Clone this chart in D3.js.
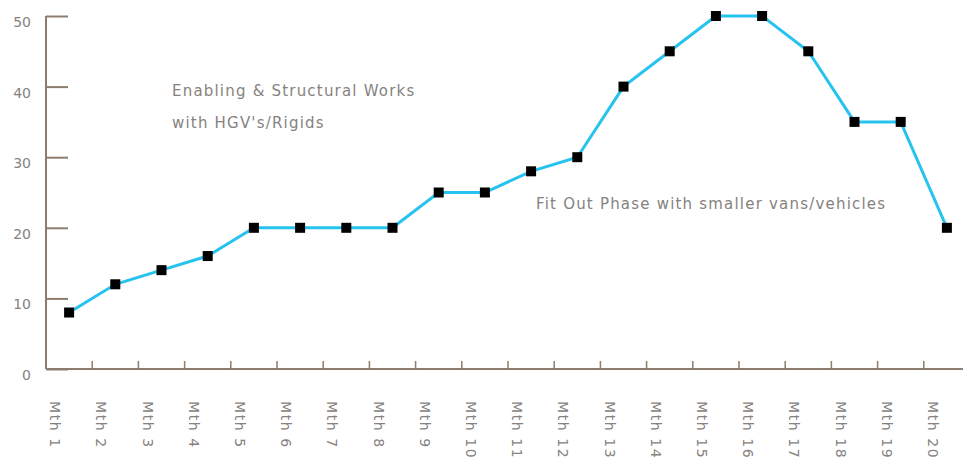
<!DOCTYPE html>
<html><head><meta charset="utf-8">
<script src="https://cdn.jsdelivr.net/npm/d3@7"></script>
<style>body{margin:0;background:#fff}svg{display:block}</style>
</head><body><svg id="c" width="963" height="461"></svg>
<script>
const categories = ["Mth 1","Mth 2","Mth 3","Mth 4","Mth 5","Mth 6","Mth 7","Mth 8","Mth 9","Mth 10","Mth 11","Mth 12","Mth 13","Mth 14","Mth 15","Mth 16","Mth 17","Mth 18","Mth 19","Mth 20"];
const values = [8,12,14,16,20,20,20,20,25,25,28,30,40,45,50,50,45,35,35,20];
const yTicks = [0,10,20,30,40,50];
const notes = [
  {lines:["Enabling & Structural Works","with HGV's/Rigids"]},
  {lines:["Fit Out Phase with smaller vans/vehicles"]}
];

(function(){
const svg = d3.select("#c");
const mL = 46, mR = 970, mT = 16, mB = 369;
const axisColor = "#8c7d6e", textColor = "#858280";
const font = "DejaVu Sans, sans-serif";
const x = d3.scaleBand().domain(categories).range([mL, mR]).padding(0);
const y = d3.scaleLinear().domain([0,50]).range([mB, mT]);

// y axis
const yg = svg.append("g").attr("transform",`translate(${mL},0)`)
  .call(d3.axisRight(y).tickValues(yTicks).tickSize(22).tickFormat(""));
yg.selectAll("path,line").attr("stroke",axisColor).attr("stroke-width",2);
yg.select(".domain").attr("d",`M0,${mT}V${mB}`);
svg.append("g").selectAll("text").data(yTicks).join("text")
  .attr("x",31).attr("y",d=>y(d)+11).attr("text-anchor","end")
  .attr("font-family",font).attr("font-size",14).attr("fill",textColor)
  .text(d=>d);

// x axis
const xg = svg.append("g").attr("transform",`translate(0,${mB})`);
xg.append("line").attr("x1",mL).attr("x2",963).attr("y1",0).attr("y2",0)
  .attr("stroke",axisColor).attr("stroke-width",2);
xg.selectAll("line.t").data(categories.slice(1)).join("line").attr("class","t")
  .attr("x1",d=>x(d)).attr("x2",d=>x(d)).attr("y1",0).attr("y2",-8)
  .attr("stroke",axisColor).attr("stroke-width",1.5);
xg.selectAll("text").data(categories).join("text")
  .attr("transform",d=>`translate(${x(d)+x.bandwidth()/2-19},32) rotate(90)`)
  .attr("font-family",font).attr("font-size",14).attr("letter-spacing",1.6).attr("fill",textColor)
  .text(d=>d);

// line
const cx = d=>x(d)+x.bandwidth()/2;
svg.append("path").datum(values)
  .attr("d",d3.line().x((d,i)=>cx(categories[i])).y(d=>y(d)))
  .attr("fill","none").attr("stroke","#27c3ef").attr("stroke-width",3);
svg.selectAll("rect.m").data(values).join("rect").attr("class","m")
  .attr("x",(d,i)=>cx(categories[i])-5).attr("y",d=>y(d)-5)
  .attr("width",10).attr("height",10).attr("fill","#000");

// annotations
const ann = svg.append("g").attr("font-family",font).attr("font-size",15).attr("letter-spacing",1.2).attr("fill",textColor);
ann.append("text").attr("x",172).attr("y",96).text(notes[0].lines[0]);
ann.append("text").attr("x",172).attr("y",128).text(notes[0].lines[1]);
ann.append("text").attr("x",536).attr("y",209).text(notes[1].lines[0]);
})();
</script></body></html>
